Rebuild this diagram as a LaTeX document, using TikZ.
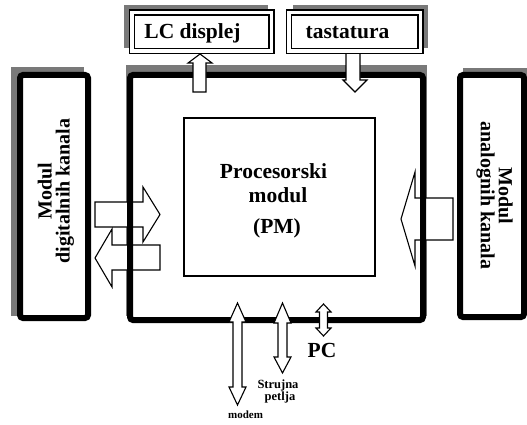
\documentclass[tikz,border=0pt]{standalone}
\usepackage{fontspec}
\setmainfont{Liberation Serif}
\begin{document}
\begin{tikzpicture}[x=1pt,y=-1pt,
  shadowfill/.style={fill=gray!95!black, draw=none},
  heavybox/.style={draw, line width=6pt, rounded corners=3pt},
  blockarrow/.style={draw=black, fill=white, line width=1.1pt, line join=miter},
  topbox/.style={draw, fill=white, double, double distance=3.8pt, line width=1.2pt, inner sep=0pt, outer sep=0pt},
  big/.style={font=\bfseries\fontsize{21.5}{24}\selectfont, inner sep=0pt},
  side/.style={font=\bfseries\fontsize{20}{18}\selectfont, inner sep=0pt, align=center},
]
\useasboundingbox (0,0) rectangle (527,425);
% shadows
\fill[shadowfill] (124,5) rectangle (268,48);
\fill[shadowfill] (293,5) rectangle (428,48);
\fill[shadowfill] (11,67) rectangle (84,316);
\fill[shadowfill] (126,65) rectangle (427,316);
\fill[shadowfill] (463,68) rectangle (530,310);
% main frame interior
\node[fill=white, minimum width=293pt, minimum height=245pt, inner sep=0pt, outer sep=0pt] (main) at (276.5,197.5) {};
% side arrows (below the frame line)
\draw[blockarrow] (95,202) -- (143,202) -- (143,187) -- (160,214.5) -- (143,242) -- (143,227) -- (95,227) -- cycle;
\draw[blockarrow] (160,245) -- (112,245) -- (112,229) -- (95,258) -- (112,287) -- (112,270) -- (160,270) -- cycle;
\draw[blockarrow] (453,198) -- (415,198) -- (415,172) -- (401,219) -- (415,266) -- (415,240) -- (453,240) -- cycle;
% frame line
\draw[heavybox] (main.north west) rectangle (main.south east);
% top arrows
\draw[blockarrow] (193,92) -- (193,63) -- (188,63) -- (200,54) -- (212,63) -- (206,63) -- (206,92) -- cycle;
\draw[blockarrow] (346,53) -- (346,80) -- (343,80) -- (355,92) -- (367,80) -- (360,80) -- (360,53) -- cycle;
% bottom double arrows
\draw[blockarrow] (237.5,303) -- (246,322) -- (242,322) -- (242,387) -- (246,387) -- (237.5,405) -- (229,387) -- (233,387) -- (233,322) -- (229,322) -- cycle;
\draw[blockarrow] (282.5,303) -- (291,323) -- (287,323) -- (287,357) -- (291,357) -- (282.5,373) -- (274,357) -- (278,357) -- (278,323) -- (274,323) -- cycle;
\draw[blockarrow] (323.5,304) -- (331,312) -- (327.5,312) -- (327.5,328) -- (331,328) -- (323.5,336) -- (316,328) -- (319.5,328) -- (319.5,312) -- (316,312) -- cycle;
% top boxes
\node[topbox, minimum width=139.5pt, minimum height=38.5pt] (lcd) at (201.75,31.75) {};
\node[topbox, minimum width=131.5pt, minimum height=38.5pt] (tast) at (354.75,31.75) {};
\node[big] (lcdtext) at (192.5,33) {LC displej};
\node[big] (tasttext) at (347.5,33) {tastatura};
% side modules
\node[heavybox, fill=white, minimum width=68pt, minimum height=243pt, inner sep=0pt, outer sep=0pt] (dig) at (54,196.5) {};
\node[heavybox, fill=white, minimum width=64pt, minimum height=242pt, inner sep=0pt, outer sep=0pt] (ana) at (492,196) {};
\node[side, rotate=90] (digtext) at (56,191) {Modul\\digitalnih kanala};
\node[side, rotate=-90] (anatext) at (494.5,195.5) {Modul\\analognih kanala};
% processor module
\node[draw, line width=1.5pt, minimum width=191pt, minimum height=158pt, inner sep=0pt, outer sep=0pt] (pm) at (279.5,197) {};
\node[big, anchor=base] (pm1) at (273.5,178) {Procesorski};
\node[big, anchor=base] (pm2) at (278,202) {modul};
\node[big, anchor=base] (pm3) at (277,233) {(PM)};
% bottom labels
\node[big] (pc) at (322,350) {PC};
\node[font=\bfseries\fontsize{12.5}{12}\selectfont, inner sep=0pt, align=center] (struj) at (278,391) {Strujna\\\hspace*{4pt}petlja};
\node[font=\bfseries\fontsize{11}{12}\selectfont, inner sep=0pt] (modem) at (245.5,415) {modem};
\end{tikzpicture}
\end{document}
